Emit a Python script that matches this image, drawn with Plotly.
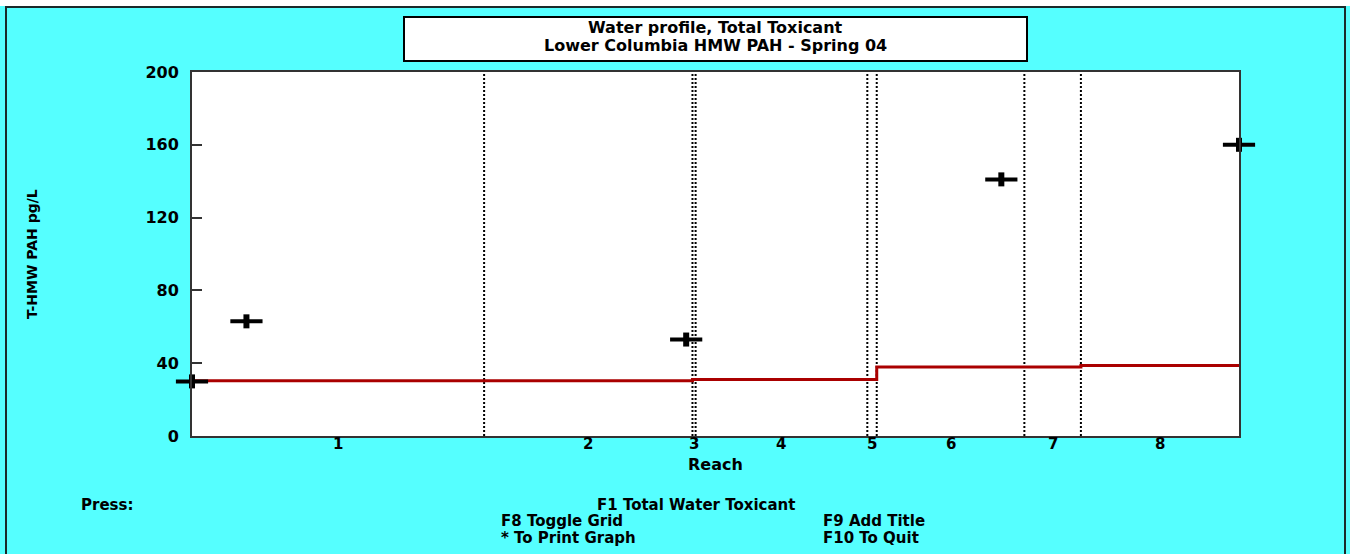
import plotly.graph_objects as go

# ---------------- data ----------------
reach_labels = ["1", "2", "3", "4", "5", "6", "7", "8"]
reach_bounds = [0.0, 27.9, 47.8, 48.1, 64.5, 65.4, 79.5, 84.9, 100.0]   # distance units along river
model_conc = [30.3, 30.3, 31.0, 31.0, 31.0, 37.9, 37.9, 38.7]           # modelled water conc per reach
obs_x = [0.0, 5.2, 47.2, 77.3, 100.0]                                    # observation locations
obs_y = [30, 63, 53, 141, 160]                                           # observed T-HMW PAH pg/L
y_ticks = [0, 40, 80, 120, 160, 200]

title_lines = ["Water profile, Total Toxicant", "Lower Columbia HMW PAH - Spring 04"]
y_title = "T-HMW PAH pg/L"
x_title = "Reach"

# ---------------- layout helpers ----------------
W, H = 1350, 554
L, R, T, B = 192, 111, 72, 118
PW, PH = W - L - R, H - T - B


def px(x):
    return (x - L) / PW


def py(y):
    return (H - B - y) / PH


CYAN = "#55FFFF"
RED = "#AA0000"
FONT = "DejaVu Sans"

reach_centers = [(a + b) / 2 for a, b in zip(reach_bounds[:-1], reach_bounds[1:])]

fig = go.Figure()

# reach boundary dotted lines
bx, by = [], []
for b in reach_bounds[1:-1]:
    bx += [b, b, None]
    by += [y_ticks[0], y_ticks[-1], None]
fig.add_trace(go.Scatter(x=bx, y=by, mode="lines", hoverinfo="skip",
                         line=dict(color="black", width=2, dash="2px,2px"),
                         showlegend=False))

# model step line
fig.add_trace(go.Scatter(x=reach_bounds, y=model_conc + [model_conc[-1]], mode="lines",
                         line=dict(color=RED, width=3, shape="hv"), showlegend=False))

# observations as wide plus markers
fig.add_trace(go.Scatter(x=obs_x, y=obs_y, mode="markers", cliponaxis=False, showlegend=False,
                         marker=dict(symbol="line-ew", size=23, line=dict(color="black", width=4))))
fig.add_trace(go.Scatter(x=obs_x, y=obs_y, mode="markers", cliponaxis=False, showlegend=False,
                         marker=dict(symbol="line-ns", size=10, line=dict(color="black", width=6))))

axis_line = dict(showline=True, mirror=True, linecolor="#333333", linewidth=2,
                 showgrid=False, zeroline=False)

fig.update_xaxes(range=[reach_bounds[0], reach_bounds[-1]], showticklabels=False, ticks="",
                 **axis_line)
fig.update_yaxes(range=[y_ticks[0], y_ticks[-1]], tickvals=y_ticks, ticks="inside",
                 ticklen=10, tickwidth=1.5, tickcolor="#333333", ticklabelstandoff=8,
                 tickfont=dict(family=FONT, size=16, color="black", weight="bold"),
                 **axis_line)

shapes = [
    # white band at top
    dict(type="rect", xref="paper", yref="paper", x0=px(0), x1=px(W), y0=py(6), y1=py(-2),
         fillcolor="white", line=dict(width=0), layer="below"),
    # window border
    dict(type="rect", xref="paper", yref="paper", x0=px(6), x1=px(1345), y0=py(560), y1=py(7),
         fillcolor="rgba(0,0,0,0)", line=dict(color="#1a2a2a", width=2), layer="below"),
    # title box
    dict(type="rect", xref="paper", yref="paper", x0=px(404), x1=px(1027), y0=py(61), y1=py(17),
         fillcolor="white", line=dict(color="black", width=2), layer="below"),
]


def ann(text, x, y, size=17, xanchor="center", angle=0):
    return dict(text=text, xref="paper", yref="paper", x=px(x), y=py(y), showarrow=False,
                xanchor=xanchor, yanchor="middle", textangle=angle, borderpad=0,
                font=dict(family=FONT, size=size, color="black", weight="bold"))


annotations = [
    ann(title_lines[0], 715.5, 27, 16),
    ann(title_lines[1], 715.5, 45, 16),
    ann(y_title, 32, 254, 14, angle=-90),
    ann(x_title, 715, 464, 16),
    ann("Press:", 80, 505, 15, xanchor="left"),
    ann("F1 Total Water Toxicant", 696, 505, 15),
    ann("F8 Toggle Grid", 500, 521, 15, xanchor="left"),
    ann("F9 Add Title", 822, 521, 15, xanchor="left"),
    ann("* To Print Graph", 500, 538, 15, xanchor="left"),
    ann("F10 To Quit", 822, 538, 15, xanchor="left"),
]

# reach numbers placed at reach centres on the x axis
for lab, c in zip(reach_labels, reach_centers):
    annotations.append(dict(text=lab, xref="x", yref="paper", x=c, y=py(444), showarrow=False,
                            xanchor="center", yanchor="middle", borderpad=0,
                            font=dict(family=FONT, size=15, color="black", weight="bold")))

fig.update_layout(width=W, height=H, margin=dict(l=L, r=R, t=T, b=B, pad=0),
                  paper_bgcolor=CYAN, plot_bgcolor="white", showlegend=False,
                  shapes=shapes, annotations=annotations)

fig.write_html("out.html", config={"displayModeBar": False},
               post_script="document.body.style.margin='0';document.body.style.overflow='hidden';")
